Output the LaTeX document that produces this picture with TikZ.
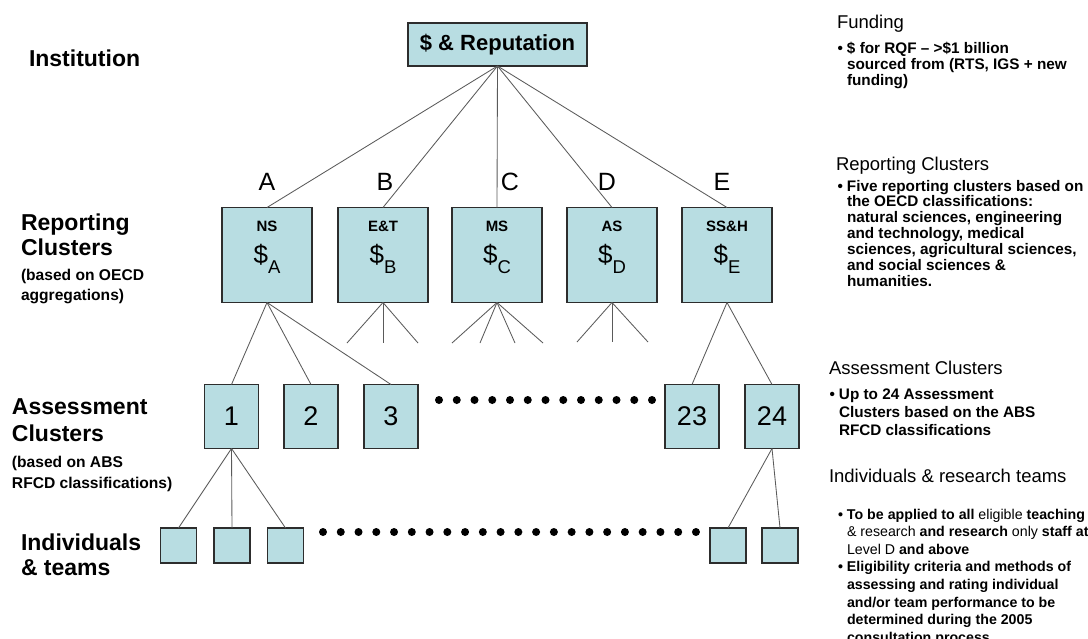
\documentclass[tikz,border=0pt]{standalone}
\usepackage{fontspec}
\setmainfont{Liberation Sans}
\definecolor{boxfill}{RGB}{184,221,226}
\definecolor{boxline}{RGB}{45,45,45}
\definecolor{wire}{RGB}{90,90,90}
% bullet hanging into the left margin of a text block
\newcommand\blt{\llap{\textbullet\hspace{4pt}}}
% subscripted dollar sign for the reporting clusters
\newcommand\dollarsub[1]{\$\raisebox{-10pt}{\fontsize{18.5}{18.5}\selectfont #1}}

\begin{document}
\begin{tikzpicture}[x=1pt,y=-1pt,
  every node/.style={inner sep=0pt, outer sep=0pt},
  cbox/.style={draw=boxline, fill=boxfill, line width=1.1pt},
  topbox/.style={cbox, minimum width=179pt, minimum height=43pt,
    font=\bfseries\fontsize{22}{22}\selectfont},
  repbox/.style={cbox, minimum width=90pt, minimum height=95pt},
  assbox/.style={cbox, minimum width=54pt, minimum height=64pt,
    font=\fontsize{27}{27}\selectfont},
  indbox/.style={cbox, minimum width=36pt, minimum height=35pt},
  wire/.style={draw=wire, line width=0.85pt},
  letter/.style={anchor=base, font=\fontsize{25}{25}\selectfont},
  abbr/.style={anchor=base, font=\bfseries\fontsize{15}{15}\selectfont},
  money/.style={anchor=base, font=\fontsize{26}{26}\selectfont},
  lvl/.style={anchor=base west, font=\bfseries\fontsize{23}{23}\selectfont},
  lvlnote/.style={anchor=base west, font=\bfseries\fontsize{15.6}{15.6}\selectfont},
  rhead/.style={anchor=base west, font=\fontsize{18.5}{18.5}\selectfont},
  rbody/.style={anchor=base west, font=\bfseries\fontsize{15.3}{#1}\selectfont},
]
\useasboundingbox (0,0) rectangle (1088,638);
\clip (0,0) rectangle (1088,638);

% ---------- level names on the left ----------
\node[lvl] (lInst) at (29,66) {Institution};
\node[lvl] (lRep1) at (21,230) {Reporting};
\node[lvl] (lRep2) at (21,255) {Clusters};
\node[lvlnote] (lRep3) at (21,280) {(based on OECD};
\node[lvlnote] (lRep4) at (21,300) {aggregations)};
\node[lvl] (lAss1) at (12,414) {Assessment};
\node[lvl] (lAss2) at (12,441) {Clusters};
\node[lvlnote] (lAss3) at (12,467) {(based on ABS};
\node[lvlnote] (lAss4) at (12,488) {RFCD classifications)};
\node[lvl] (lInd1) at (21,550) {Individuals};
\node[lvl] (lInd2) at (21,575) {\& teams};

% ---------- institution ----------
\node[topbox] (inst) at (497.5,44.5) {\$ \& Reputation};

% ---------- reporting clusters ----------
\node[repbox] (ns)  at (267,255) {};
\node[repbox] (et)  at (383,255) {};
\node[repbox] (ms)  at (497,255) {};
\node[repbox] (as)  at (612,255) {};
\node[repbox] (ssh) at (727,255) {};

\node[abbr]  (nsT)  at ([yshift=-24pt]ns.north)  {NS};
\node[money] (nsM)  at ([yshift=-56pt]ns.north)  {\dollarsub{A}};
\node[abbr]  (etT)  at ([yshift=-24pt]et.north)  {E\&T};
\node[money] (etM)  at ([yshift=-56pt]et.north)  {\dollarsub{B}};
\node[abbr]  (msT)  at ([yshift=-24pt]ms.north)  {MS};
\node[money] (msM)  at ([yshift=-56pt]ms.north)  {\dollarsub{C}};
\node[abbr]  (asT)  at ([yshift=-24pt]as.north)  {AS};
\node[money] (asM)  at ([yshift=-56pt]as.north)  {\dollarsub{D}};
\node[abbr]  (sshT) at ([yshift=-24pt]ssh.north) {SS\&H};
\node[money] (sshM) at ([yshift=-56pt]ssh.north) {\dollarsub{E}};

\node[letter] (lA) at ([yshift=17pt]ns.north)               {A};
\node[letter] (lB) at ([xshift=2pt,yshift=17pt]et.north)    {B};
\node[letter] (lC) at ([xshift=13pt,yshift=17pt]ms.north)   {C};
\node[letter] (lD) at ([xshift=-5pt,yshift=17pt]as.north)   {D};
\node[letter] (lE) at ([xshift=-5pt,yshift=17pt]ssh.north)  {E};

\foreach \r in {ns,et,ms,as,ssh} \draw[wire] (inst.south) -- (\r.north);

% ---------- assessment clusters ----------
\node[assbox] (a1)  at (231.5,416.5) {1};
\node[assbox] (a2)  at (311,416.5)   {2};
\node[assbox] (a3)  at (391,416.5)   {3};
\node[assbox] (a23) at (692,416.5)   {23};
\node[assbox] (a24) at (772,416.5)   {24};

\foreach \a in {a1,a2,a3} \draw[wire] (ns.south) -- (\a.north);
\foreach \a in {a23,a24} \draw[wire] (ssh.south) -- (\a.north);

% open branches under the other reporting clusters
\coordinate (et1) at (347,343);
\coordinate (et2) at (383,343);
\coordinate (et3) at (418,343);
\coordinate (ms1) at (452,343);
\coordinate (ms2) at (480,343);
\coordinate (ms3) at (515,343);
\coordinate (ms4) at (543,343);
\coordinate (as1) at (577,342);
\coordinate (as2) at (612,342);
\coordinate (as3) at (648,342);
\foreach \e in {et1,et2,et3} \draw[wire] (et.south) -- (\e);
\foreach \e in {ms1,ms2,ms3,ms4} \draw[wire] (ms.south) -- (\e);
\foreach \e in {as1,as2,as3} \draw[wire] (as.south) -- (\e);

% ellipsis between cluster 3 and cluster 23
\foreach \i in {0,...,12} \fill ({439+\i*17.75},400) circle[radius=4pt];

% ---------- individuals & teams ----------
\node[indbox] (i1) at (178.5,545.5) {};
\node[indbox] (i2) at (232,545.5)   {};
\node[indbox] (i3) at (285.5,545.5) {};
\node[indbox] (i4) at (728,545.5)   {};
\node[indbox] (i5) at (780,545.5)   {};

\foreach \i in {i1,i2,i3} \draw[wire] (a1.south) -- (\i.north);
\foreach \i in {i4,i5} \draw[wire] (a24.south) -- (\i.north);

\foreach \i in {0,...,21} \fill ({323+\i*17.76},532) circle[radius=4pt];

% ---------- notes on the right ----------
\node[rhead] (nFundH) at (837,28) {Funding};
\node[rbody=16] (nFundB) at (847,53) {\begin{tabular}[t]{@{}l@{}}
  \blt\$ for RQF -- >\$1 billion\\
  sourced from (RTS, IGS + new\\
  funding)
\end{tabular}};

\node[rhead] (nRepH) at (836,170) {Reporting Clusters};
\node[rbody=15.9] (nRepB) at (847,191) {\begin{tabular}[t]{@{}l@{}}
  \blt Five reporting clusters based on\\
  the OECD classifications:\\
  natural sciences, engineering\\
  and technology, medical\\
  sciences, agricultural sciences,\\
  and social sciences \&\\
  humanities.
\end{tabular}};

\node[rhead] (nAssH) at (829,374) {Assessment Clusters};
\node[rbody=18] (nAssB) at (839,399) {\begin{tabular}[t]{@{}l@{}}
  \blt Up to 24 Assessment\\
  Clusters based on the ABS\\
  RFCD classifications
\end{tabular}};

\node[rhead] (nIndH) at (829,482) {Individuals \& research teams};
\node[rbody=17.6] (nIndB) at (847,519) {\fontsize{14.2}{17.6}\selectfont\begin{tabular}[t]{@{}l@{}}
  \blt To be applied to all {\mdseries eligible} teaching\\
  {\mdseries\& research} and research {\mdseries only} staff at\\
  {\mdseries Level D} and above\\
  \blt Eligibility criteria and methods of\\
  assessing and rating individual\\
  and/or team performance to be\\
  determined during the 2005\\
  consultation process.
\end{tabular}};
\end{tikzpicture}
\end{document}
